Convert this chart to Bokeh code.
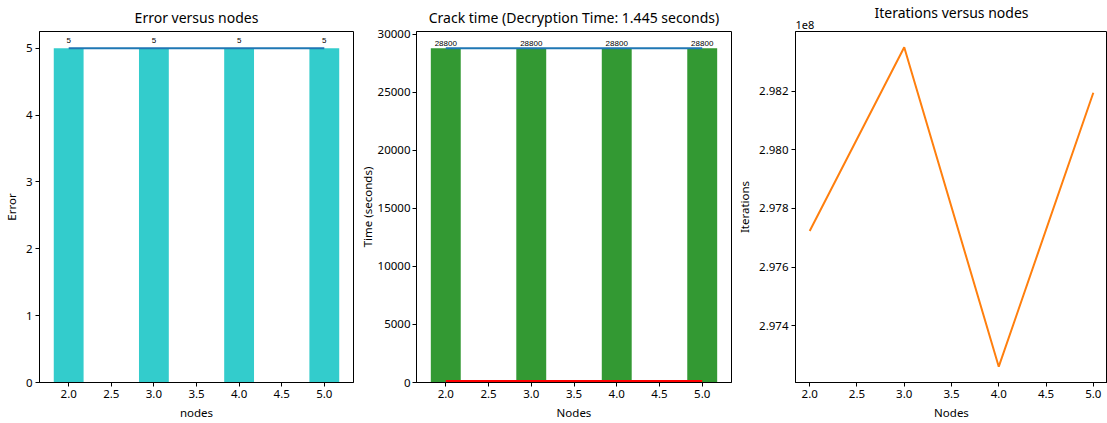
from bokeh.plotting import figure
from bokeh.layouts import row
from bokeh.models import FixedTicker, CustomJSTickFormatter, NumeralTickFormatter, Range1d, Title, ColumnDataSource
from bokeh.embed import file_html
from bokeh.resources import INLINE

nodes = [2, 3, 4, 5]
error = [5, 5, 5, 5]
crack_time = [28800, 28800, 28800, 28800]
decryption_time = [1.445, 1.445, 1.445, 1.445]
iterations = [297723000, 298350000, 297260000, 298195000]
x_ticks = [2.0, 2.5, 3.0, 3.5, 4.0, 4.5, 5.0]
error_ticks = [0, 1, 2, 3, 4, 5]
time_ticks = [0, 5000, 10000, 15000, 20000, 25000, 30000]
iter_ticks = [297400000, 297600000, 297800000, 298000000, 298200000]

FONT = "Noto Sans"
H = 423


def style(p, xlabel, ylabel):
    p.title.text_font = FONT
    p.title.text_font_size = "14px"
    p.title.text_font_style = "normal"
    p.title.align = "center"
    p.title.text_color = "#000000"
    p.outline_line_color = "#000000"
    p.outline_line_width = 1
    p.xgrid.visible = False
    p.ygrid.visible = False
    for ax in (p.xaxis[0], p.yaxis[0]):
        ax.axis_line_color = "#000000"
        ax.major_tick_line_color = "#000000"
        ax.major_tick_out = 4
        ax.major_tick_in = 0
        ax.minor_tick_line_color = None
        ax.major_label_text_font = FONT
        ax.major_label_text_font_size = "11.5px"
        ax.major_label_text_color = "#000000"
        ax.axis_label_text_font = FONT
        ax.axis_label_text_font_size = "11.5px"
        ax.axis_label_text_font_style = "normal"
        ax.axis_label_text_color = "#000000"
        ax.major_label_standoff = 3
        ax.axis_label_standoff = 4
    p.xaxis.axis_label = xlabel
    p.yaxis.axis_label = ylabel
    p.xaxis.ticker = FixedTicker(ticks=x_ticks)
    p.xaxis.formatter = NumeralTickFormatter(format="0.0")


# Panel 1
src1 = ColumnDataSource(dict(x=nodes, y=error, lab=[str(v) for v in error]))
p1 = figure(width=356, height=H, output_backend="svg", toolbar_location=None,
            title="Error versus nodes",
            x_range=Range1d(1.6575, 5.3425), y_range=Range1d(0, 5.25),
            min_border_left=39, min_border_right=3, min_border_top=30, min_border_bottom=41)
p1.vbar(x="x", top="y", width=0.35, source=src1, color="#33cccc", line_color=None)
p1.line(x="x", y="y", source=src1, line_color="#1f77b4", line_width=2)
p1.text(x="x", y="y", text="lab", source=src1, text_align="center", text_baseline="bottom",
        y_offset=-5, text_font_size="8px", text_color="#000000")
style(p1, "nodes", "Error")
p1.yaxis.ticker = FixedTicker(ticks=error_ticks)

# Panel 2
src2 = ColumnDataSource(dict(x=nodes, y=crack_time, d=decryption_time,
                             lab=[str(v) for v in crack_time]))
p2 = figure(width=378, height=H, output_backend="svg", toolbar_location=None,
            title="Crack time (Decryption Time: 1.445 seconds)",
            x_range=Range1d(1.6575, 5.3425), y_range=Range1d(0, 30240),
            min_border_left=60, min_border_right=3, min_border_top=30, min_border_bottom=41)
p2.vbar(x="x", top="y", width=0.35, source=src2, color="#339933", line_color=None)
p2.line(x="x", y="y", source=src2, line_color="#1f77b4", line_width=2)
p2.line(x="x", y="d", source=src2, line_color="#ff0000", line_width=5)
p2.text(x="x", y="y", text="lab", source=src2, text_align="center", text_baseline="bottom",
        y_offset=-2, text_font_size="8px", text_color="#000000")
style(p2, "Nodes", "Time (seconds)")
p2.yaxis.ticker = FixedTicker(ticks=time_ticks)
p2.yaxis.axis_label_standoff = 0
p2.yaxis.major_label_standoff = 2

# Panel 3
p3 = figure(width=373, height=H, output_backend="svg", toolbar_location=None,
            title="Iterations versus nodes",
            x_range=Range1d(1.85, 5.15), y_range=Range1d(297206000, 298404000),
            min_border_left=60, min_border_right=0, min_border_top=30, min_border_bottom=41)
p3.line(x=nodes, y=iterations, line_color="#ff7f0e", line_width=2)
style(p3, "Nodes", "Iterations")
p3.title.standoff = -12
p3.yaxis.ticker = FixedTicker(ticks=iter_ticks)
p3.yaxis.formatter = CustomJSTickFormatter(code="return (tick/1e8).toFixed(3);")
p3.add_layout(Title(text="1e8", align="left", text_font=FONT, text_font_size="11px",
                    text_font_style="normal", text_color="#000000", standoff=6), "above")

layout = row(p1, p2, p3)
open("out.html", "w").write(file_html(layout, INLINE))
